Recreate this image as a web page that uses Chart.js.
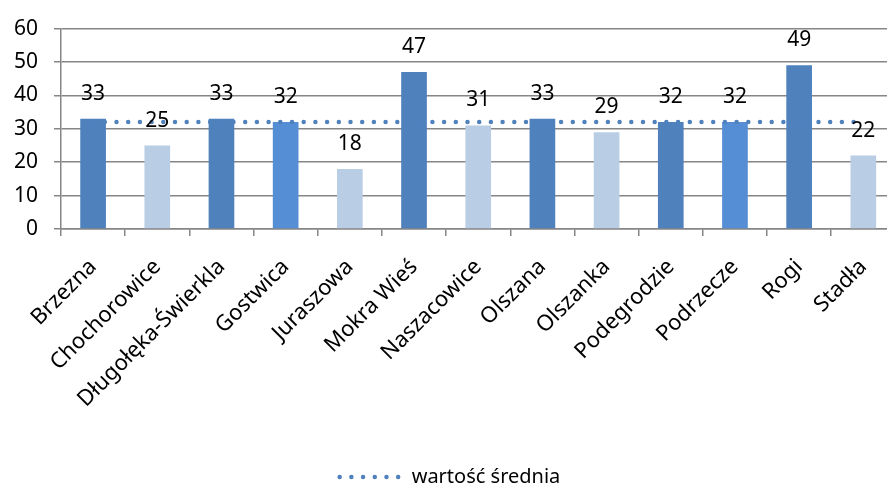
<!DOCTYPE html>
<html>
<head>
<meta charset="utf-8">
<script src="https://cdn.jsdelivr.net/npm/chart.js@4/dist/chart.umd.min.js"></script>
<style>
  html, body { margin: 0; padding: 0; background: #fff; overflow: hidden; }
  #wrap { width: 900px; height: 485px; }
</style>
</head>
<body>
<div id="wrap"><canvas id="chart"></canvas></div>
<script>
var categories = ['Brzezna', 'Chochorowice', 'Długołęka-Świerkla', 'Gostwica', 'Juraszowa',
  'Mokra Wieś', 'Naszacowice', 'Olszana', 'Olszanka', 'Podegrodzie', 'Podrzecze', 'Rogi', 'Stadła'];
var values = [33, 25, 33, 32, 18, 47, 31, 33, 29, 32, 32, 49, 22];
var average = [32, 32, 32, 32, 32, 32, 32, 32, 32, 32, 32, 32, 32];
var yTicks = [0, 10, 20, 30, 40, 50, 60];

var dark = '#4F81BD', light = '#B9CDE5', mid = '#558ED5';
var barColors = [dark, light, dark, mid, light, dark, light, dark, light, dark, mid, dark, light];

var font = '"Noto Sans", "Open Sans", sans-serif';
var dots = [0, 11.7];

// values above bars
var valueLabels = {
  id: 'valueLabels',
  afterDatasetsDraw: function(chart) {
    var ctx = chart.ctx;
    var meta = chart.getDatasetMeta(1);
    ctx.save();
    ctx.font = '21px ' + font;
    ctx.fillStyle = '#000';
    ctx.textAlign = 'center';
    ctx.textBaseline = 'alphabetic';
    meta.data.forEach(function(bar, i) {
      ctx.fillText(values[i], bar.x, bar.y - 19);
    });
    ctx.restore();
  }
};

new Chart(document.getElementById('chart'), {
  data: {
    labels: categories,
    datasets: [{
      type: 'line',
      label: 'wartość średnia',
      data: average,
      order: 0,
      borderColor: dark,
      backgroundColor: dark,
      borderWidth: 4.5,
      borderDash: dots,
      borderCapStyle: 'round',
      pointRadius: 0,
      fill: false
    }, {
      type: 'bar',
      label: 'values',
      data: values,
      order: 1,
      backgroundColor: barColors,
      barPercentage: 0.4,
      categoryPercentage: 1
    }]
  },
  options: {
    responsive: true,
    maintainAspectRatio: false,
    animation: false,
    layout: { padding: { top: 4, right: 0, left: 0, bottom: -12 } },
    plugins: {
      tooltip: { enabled: false },
      legend: {
        position: 'bottom',
        labels: {
          usePointStyle: true,
          pointStyle: 'line',
          pointStyleWidth: 62,
          color: '#000',
          font: { family: font, size: 20 },
          padding: 2,
          generateLabels: function(chart) {
            var items = Chart.defaults.plugins.legend.labels.generateLabels(chart);
            items = items.filter(function(item) { return item.datasetIndex === 0; });
            items.forEach(function(item) {
              item.lineDash = dots;
              item.lineCap = 'round';
              item.lineWidth = 4.5;
              item.strokeStyle = dark;
              item.pointStyle = 'line';
            });
            return items;
          }
        }
      }
    },
    scales: {
      x: {
        afterFit: function(scale) { scale.height = 236; },
        grid: { display: true, drawOnChartArea: false, color: '#868686', lineWidth: 1.5, tickLength: 7, offset: true },
        border: { color: '#868686', width: 1.5 },
        ticks: {
          color: '#000', font: { family: font, size: 22 },
          minRotation: 45, maxRotation: 45, padding: 18
        }
      },
      y: {
        min: 0, max: 60,
        afterBuildTicks: function(scale) {
          scale.ticks = yTicks.map(function(v) { return { value: v }; });
        },
        afterFit: function(scale) { scale.width = 61; },
        grid: { color: '#868686', lineWidth: 1.5, tickLength: 7 },
        border: { color: '#868686', width: 1.5 },
        ticks: { color: '#000', font: { family: font, size: 21 }, padding: 16 }
      }
    }
  },
  plugins: [valueLabels]
});
</script>
</body>
</html>
